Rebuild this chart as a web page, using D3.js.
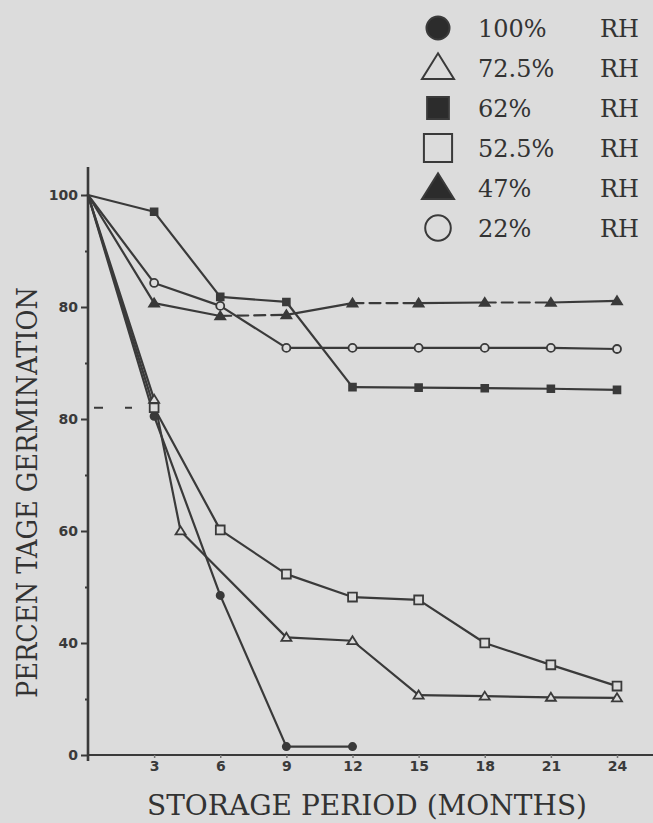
<!DOCTYPE html>
<html>
<head>
<meta charset="utf-8">
<script src="https://cdn.jsdelivr.net/npm/d3@7"></script>
<style>
	html, body { margin: 0; padding: 0; background: #dcdcdc; }
	svg { display: block; }
</style>
</head>
<body>
<svg id="chart" width="653" height="823"></svg>
<script>
// storage months and germination (%) per relative humidity
var months = [0, 3, 6, 9, 12, 15, 18, 21, 24];
var monthsRh100 = [0, 3, 6, 9, 12];
var monthsRh72 = [0, 3, 4.2, 9, 12, 15, 18, 21, 24];
var rh100 = [100, 60.5, 28.5, 1.5, 1.5];
var rh72 = [100, 63.5, 40, 21, 20.4, 10.7, 10.5, 10.3, 10.2];
var rh62 = [100, 97, 81.8, 80.9, 65.7, 65.6, 65.5, 65.4, 65.2];
var rh52 = [100, 62, 40.2, 32.3, 28.2, 27.7, 20, 16.1, 12.3];
var rh47 = [100, 80.7, 78.4, 78.6, 80.7, 80.7, 80.8, 80.8, 81.1];
var rh22 = [100, 84.3, 80.2, 72.7, 72.7, 72.7, 72.7, 72.7, 72.5];

var legendPct = ['100%', '72.5%', '62%', '52.5%', '47%', '22%'];
var legendUnit = 'RH';

var xTicks = [3, 6, 9, 12, 15, 18, 21, 24];
var xTickLabels = ['3', '6', '9', '12', '15', '18', '21', '24'];
var yTicks = [0, 20, 40, 60, 80, 100];
var yTickLabels = ['0', '40', '60', '80', '80', '100'];   // as printed on the figure
var yMinor = [10, 30, 50, 70, 90];

initchart();

function initchart() {
	var svg = d3.select('#chart');
	var ink = '#3a3a3a';

	var x = d3.scaleLinear().domain([0, 24]).range([88, 617]);
	var y = d3.scaleLinear().domain([0, 100]).range([755, 195]);

	// series table built from the arrays above
	var series = [
		{ xs: monthsRh100, ys: rh100, mark: 'fcircle' },
		{ xs: monthsRh72, ys: rh72, mark: 'otri' },
		{ xs: months, ys: rh62, mark: 'fsquare' },
		{ xs: months, ys: rh52, mark: 'osquare' },
		{ xs: months, ys: rh47, mark: 'ftri', dashed: [2, 4, 6] },
		{ xs: months, ys: rh22, mark: 'ocircle' }
	];

	// axes lines
	svg.append('line')
		.attr('x1', x(0)).attr('x2', 653)
		.attr('y1', y(0)).attr('y2', y(0))
		.attr('stroke', ink).attr('stroke-width', 2.2);
	svg.append('line')
		.attr('x1', x(0)).attr('x2', x(0))
		.attr('y1', 167).attr('y2', y(0) + 6)
		.attr('stroke', ink).attr('stroke-width', 2.6);

	var yAxis = svg.append('g')
		.attr('transform', `translate(${x(0)},0)`)
		.call(d3.axisLeft(y)
			.tickValues(yTicks)
			.tickSize(7)
			.tickPadding(3)
			.tickFormat(function(d, i) { return yTickLabels[i]; }));
	yAxis.select('.domain').remove();
	yAxis.selectAll('line').attr('stroke', ink).attr('stroke-width', 2);
	yAxis.selectAll('text')
		.attr('fill', ink)
		.style('font-family', 'DejaVu Sans')
		.style('font-weight', 'bold')
		.style('font-size', '14px');

	var yMinorG = svg.append('g')
		.attr('transform', `translate(${x(0)},0)`)
		.call(d3.axisLeft(y).tickValues(yMinor).tickSize(3).tickFormat(''));
	yMinorG.select('.domain').remove();
	yMinorG.selectAll('line').attr('stroke', ink).attr('stroke-width', 2);

	var xAxis = svg.append('g')
		.attr('transform', `translate(0,${y(0)})`)
		.call(d3.axisBottom(x)
			.tickValues(xTicks)
			.tickSize(3)
			.tickPadding(3)
			.tickFormat(function(d, i) { return xTickLabels[i]; }));
	xAxis.select('.domain').remove();
	xAxis.selectAll('line').attr('stroke', '#777').attr('stroke-width', 1.5);
	xAxis.selectAll('text')
		.attr('fill', ink)
		.style('font-family', 'DejaVu Sans')
		.style('font-weight', 'bold')
		.style('font-size', '14px');

	// small dashed stub next to the axis
	svg.append('line')
		.attr('x1', x(0) + 6).attr('x2', x(0) + 44)
		.attr('y1', y(62)).attr('y2', y(62))
		.attr('stroke', ink).attr('stroke-width', 2)
		.attr('stroke-dasharray', '9,22');

	// lines, drawn segment by segment so some can be dashed
	series.forEach(function(s) {
		var pts = s.xs.map(function(m, i) { return [x(m), y(s.ys[i])]; });
		var segs = d3.pairs(pts);
		svg.append('g').selectAll('line')
			.data(segs)
			.join('line')
				.attr('x1', function(d) { return d[0][0]; })
				.attr('y1', function(d) { return d[0][1]; })
				.attr('x2', function(d) { return d[1][0]; })
				.attr('y2', function(d) { return d[1][1]; })
				.attr('stroke', ink)
				.attr('stroke-width', 2.2)
				.attr('stroke-linecap', 'round')
				.attr('stroke-dasharray', function(d, i) {
					return s.dashed && s.dashed.indexOf(i) >= 0 ? '11,6' : null;
				});
	});

	// markers
	series.forEach(function(s) {
		var pts = s.xs.map(function(m, i) { return [x(m), y(s.ys[i])]; }).slice(1);
		svg.append('g').selectAll('path')
			.data(pts)
			.join('path')
				.attr('transform', function(d) { return `translate(${d[0]},${d[1]})`; })
				.attr('d', markPath(s.mark, 1))
				.attr('fill', isFilled(s.mark) ? ink : '#dcdcdc')
				.attr('stroke', ink)
				.attr('stroke-width', 1.8);
	});

	// legend
	var legend = svg.append('g');
	var rows = legend.selectAll('g')
		.data(series)
		.join('g')
			.attr('transform', function(d, i) { return `translate(438,${28 + i * 40})`; });
	rows.append('path')
		.attr('d', function(d) { return markPath(d.mark, 3.2); })
		.attr('fill', function(d) { return isFilled(d.mark) ? '#2c2c2c' : 'none'; })
		.attr('stroke', '#3a3a3a')
		.attr('stroke-width', 2);
	rows.append('text')
		.attr('x', 40).attr('y', 9)
		.attr('fill', '#333')
		.style('font-family', 'DejaVu Serif')
		.style('font-size', '24px')
		.text(function(d, i) { return legendPct[i]; });
	rows.append('text')
		.attr('x', 162).attr('y', 9)
		.attr('fill', '#333')
		.style('font-family', 'DejaVu Serif')
		.style('font-size', '24px')
		.text(legendUnit);

	// axis titles
	svg.append('text')
		.attr('x', 147).attr('y', 815)
		.attr('textLength', 440)
		.attr('lengthAdjust', 'spacingAndGlyphs')
		.attr('fill', '#333')
		.style('font-family', 'DejaVu Serif')
		.style('font-size', '27px')
		.text('STORAGE PERIOD (MONTHS)');
	svg.append('text')
		.attr('transform', 'translate(37,698) rotate(-90)')
		.attr('textLength', 411)
		.attr('lengthAdjust', 'spacingAndGlyphs')
		.attr('fill', '#333')
		.style('font-family', 'DejaVu Serif')
		.style('font-size', '27px')
		.text('PERCEN TAGE GERMINATION');
}

function isFilled(mark) {
	return mark.charAt(0) === 'f';
}

// symbol outlines, k scales the small plot marker up for the legend
function markPath(mark, k) {
	var kind = mark.slice(1);
	if (kind === 'circle') {
		var r = (mark === 'fcircle' ? 3.6 : 4) * k;
		return d3.arc()({ innerRadius: 0, outerRadius: r, startAngle: 0, endAngle: 2 * Math.PI });
	}
	if (kind === 'square') {
		var h = (mark === 'fsquare' ? 3.4 : 4.4) * k;
		return `M${-h},${-h}H${h}V${h}H${-h}Z`;
	}
	var w = 5 * k, t = 4.6 * k;
	return `M0,${-t}L${w},${t * 0.75}L${-w},${t * 0.75}Z`;
}
</script>
</body>
</html>
